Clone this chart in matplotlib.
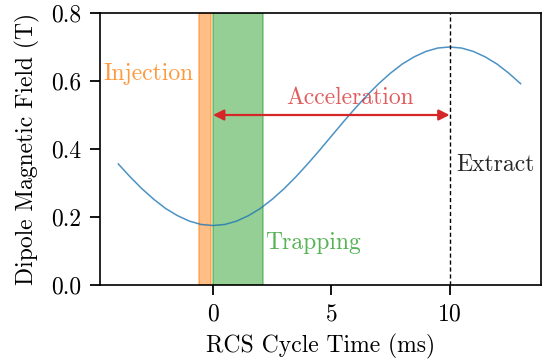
import numpy as np
import matplotlib
matplotlib.use("Agg")
import matplotlib.pyplot as plt

plt.rcParams['font.family'] = ['cmr10', 'DejaVu Serif']
plt.rcParams['mathtext.fontset'] = 'cm'
plt.rcParams['axes.formatter.use_mathtext'] = True
plt.rcParams['font.size'] = 17
plt.rcParams['axes.linewidth'] = 1.2
plt.rcParams['xtick.major.size'] = 7
plt.rcParams['ytick.major.size'] = 7
plt.rcParams['xtick.major.width'] = 1.3
plt.rcParams['ytick.major.width'] = 1.3
plt.rcParams['xtick.major.pad'] = 6.5
plt.rcParams['ytick.major.pad'] = 6.5

# Dipole field over one RCS cycle (ms, T)
time_ms = [-4.0, -3.5, -3.0, -2.5, -2.0, -1.5, -1.0, -0.5, 0.0, 0.5, 1.0, 1.5,
           2.0, 2.5, 3.0, 3.5, 4.0, 4.5, 5.0, 5.5, 6.0, 6.5, 7.0, 7.5, 8.0,
           8.5, 9.0, 9.5, 10.0, 10.5, 11.0, 11.5, 12.0, 12.5, 13.0]
field_T = [0.356, 0.318, 0.283, 0.252, 0.225, 0.204, 0.188, 0.178, 0.175,
           0.178, 0.188, 0.204, 0.225, 0.252, 0.283, 0.318, 0.356, 0.396,
           0.4375, 0.479, 0.519, 0.557, 0.592, 0.623, 0.650, 0.671, 0.687,
           0.697, 0.700, 0.697, 0.687, 0.671, 0.650, 0.623, 0.592]

# phase windows (ms)
injection = [-0.6, -0.1]
trapping = [0.0, 2.1]
extract_t = 10.0
accel_field = 0.5

fig = plt.figure(figsize=(5.44, 3.61), dpi=100)
ax = fig.add_axes([0.184, 0.2105, 0.81, 0.7535])

ax.plot(time_ms, field_T, color='C0', lw=1.1, alpha=0.8)

ax.axvspan(injection[0], injection[1], facecolor='C1', alpha=0.5,
           edgecolor='C1', lw=1.2)
ax.axvspan(trapping[0], trapping[1], facecolor='C2', alpha=0.5,
           edgecolor='C2', lw=1.2)
ax.axvline(extract_t, color='k', ls=(0, (3, 2)), lw=1.0)

ax.annotate('', xy=(extract_t, accel_field), xytext=(trapping[0], accel_field),
            arrowprops=dict(arrowstyle='<|-|>', color='C3', lw=1.6,
                            mutation_scale=16, shrinkA=0, shrinkB=0))

ax.text(-4.65, 0.62, 'Injection', color='C1', alpha=0.8, va='center')
ax.text(5.8, 0.55, 'Acceleration', color='C3', alpha=0.75, ha='center',
        va='center')
ax.text(2.2, 0.124, 'Trapping', color='C2', alpha=0.8, va='center')
ax.text(10.27, 0.354, 'Extract', color='k', alpha=0.85, va='center')

ax.set_xlim(-4.77, 13.85)
ax.set_ylim(0, 0.8)
ax.set_xticks([0, 5, 10])
ax.set_yticks([0.0, 0.2, 0.4, 0.6, 0.8])
ax.set_yticklabels(['0.0', '0.2', '0.4', '0.6', '0.8'])
ax.set_xlabel('RCS Cycle Time (ms)', labelpad=6)
ax.set_ylabel('Dipole Magnetic Field (T)', labelpad=8)

fig.savefig('out.png', dpi=100)
